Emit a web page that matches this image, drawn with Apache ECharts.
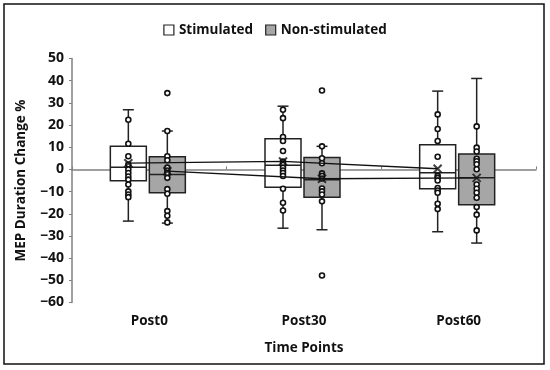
<!DOCTYPE html>
<html>
<head>
<meta charset="utf-8">
<script src="https://cdn.jsdelivr.net/npm/echarts@6/dist/echarts.min.js"></script>
<style>html,body{margin:0;padding:0;background:#fff}#c{width:550px;height:370px}</style>
</head>
<body>
<div id="c"></div>
<script>
const categories = ['Post0', 'Post30', 'Post60'];
const seriesNames = ['Stimulated', 'Non-stimulated'];
// [min, Q1, median, Q3, max]
const stimBox = [
  [-23.3, -5.1, 1.0, 10.4, 26.9],
  [-26.5, -8.0, 1.9, 13.8, 28.5],
  [-28.1, -8.7, -1.5, 11.1, 35.3]
];
const nonBox = [
  [-24.2, -10.5, -2.3, 5.7, 17.3],
  [-27.2, -12.5, -4.7, 5.4, 10.4],
  [-33.2, -15.9, -3.8, 6.9, 41.0]
];
const stimMean = [2.8, 3.6, 0.3];
const nonMean = [-0.8, -4.2, -3.8];
const stimPoints = [
  [22.4, 11.6, 5.9, 2.2, 0, -1.6, -3.2, -4.6, -6.8, -9.9, -11.3, -12.5],
  [26.9, 23.1, 14.6, 12.8, 8.3, 3.5, 2.3, 0.8, -0.5, -1.6, -3.0, -8.7, -15.0, -18.5],
  [24.8, 18.2, 12.8, 5.7, -2.9, -3.8, -5.0, -8.4, -9.5, -10.5, -15.5, -17.9]
];
const nonPoints = [
  [34.4, 17.3, 5.9, 4.1, 0.8, -0.5, -1.6, -3.8, -8.9, -11.0, -18.8, -20.9, -23.9],
  [35.6, 10.4, 5.0, 2.8, -1.8, -2.9, -4.1, -8.6, -9.9, -11.3, -14.4, -47.8],
  [19.4, 9.8, 8.1, 4.8, 3.7, 2.3, 0.1, -6.8, -8.7, -10.5, -12.8, -17.0, -20.4, -27.5]
];
const yMin = -60, yMax = 50, yStep = 10;

const FONT = 'Open Sans';
const offsets = [-21, 18];
const fills = ['#ffffff', '#a6a6a6'];
const BOXW = 36, CAPW = 11;

function boxRender(offset, fill) {
  return function (params, api) {
    const cat = api.value(0);
    const mn = api.coord([cat, api.value(1)]);
    const q1 = api.coord([cat, api.value(2)]);
    const md = api.coord([cat, api.value(3)]);
    const q3 = api.coord([cat, api.value(4)]);
    const mx = api.coord([cat, api.value(5)]);
    const x = mn[0] + offset;
    const ls = { stroke: '#222', lineWidth: 1.5, fill: null };
    return {
      type: 'group',
      children: [
        { type: 'line', shape: { x1: x, y1: mx[1], x2: x, y2: q3[1] }, style: ls },
        { type: 'line', shape: { x1: x, y1: q1[1], x2: x, y2: mn[1] }, style: ls },
        { type: 'line', shape: { x1: x - CAPW / 2, y1: mx[1], x2: x + CAPW / 2, y2: mx[1] }, style: ls },
        { type: 'line', shape: { x1: x - CAPW / 2, y1: mn[1], x2: x + CAPW / 2, y2: mn[1] }, style: ls },
        { type: 'rect', shape: { x: x - BOXW / 2, y: q3[1], width: BOXW, height: q1[1] - q3[1] },
          style: { fill: fill, stroke: '#222', lineWidth: 1.5 } },
        { type: 'line', shape: { x1: x - BOXW / 2, y1: md[1], x2: x + BOXW / 2, y2: md[1] }, style: ls }
      ]
    };
  };
}

function meanLineRender(offset, means) {
  return function (params, api) {
    if (params.dataIndex !== 0) return null;
    const pts = means.map((m, i) => {
      const p = api.coord([i, m]);
      return [p[0] + offset, p[1]];
    });
    return { type: 'polyline', shape: { points: pts }, style: { stroke: '#111', lineWidth: 1.3, fill: null } };
  };
}

const boxes = [stimBox, nonBox];
const pts = [stimPoints, nonPoints];
const means = [stimMean, nonMean];
const series = [];
for (let s = 0; s < 2; s++) {
  series.push({
    name: seriesNames[s], type: 'custom', z: 2,
    renderItem: boxRender(offsets[s], fills[s]),
    encode: { x: 0, y: [1, 2, 3, 4, 5] },
    itemStyle: { color: fills[s], borderColor: '#222' },
    data: boxes[s].map((b, i) => [i].concat(b))
  });
}
for (let s = 0; s < 2; s++) {
  const d = [];
  pts[s].forEach((arr, i) => arr.forEach(v => d.push([i, v])));
  series.push({
    type: 'scatter', z: 3, symbol: 'circle', symbolSize: 5, symbolOffset: [offsets[s], 0],
    itemStyle: { color: '#fff', borderColor: '#111', borderWidth: 1.6, opacity: 1 },
    data: d, silent: true
  });
}
for (let s = 0; s < 2; s++) {
  series.push({
    type: 'custom', z: 4,
    renderItem: meanLineRender(offsets[s], means[s]),
    encode: { x: 0, y: 1 },
    data: means[s].map((m, i) => [i, m]), silent: true
  });
  series.push({
    type: 'scatter', z: 5, symbol: 'path://M0,0L10,10M10,0L0,10', symbolSize: 8,
    symbolOffset: [offsets[s], 0],
    itemStyle: { color: 'rgba(0,0,0,0)', borderColor: '#111', borderWidth: 2 },
    data: means[s].map((m, i) => [i, m]), silent: true
  });
}

const chart = echarts.init(document.getElementById('c'));
chart.setOption({
  animation: false,
  backgroundColor: '#fff',
  textStyle: { fontFamily: FONT },
  graphic: [{
    type: 'rect', shape: { x: 4, y: 4, width: 540, height: 360 },
    style: { fill: null, stroke: '#111', lineWidth: 1.5 }, silent: true
  }],
  legend: {
    top: 18, left: 'center', itemWidth: 10, itemHeight: 10, itemGap: 12,
    icon: 'rect',
    textStyle: { fontFamily: FONT, fontWeight: 'bold', fontSize: 13.5, color: '#111' },
    data: [
      { name: seriesNames[0], itemStyle: { color: fills[0], borderColor: '#222', borderWidth: 1.2 } },
      { name: seriesNames[1], itemStyle: { color: fills[1], borderColor: '#222', borderWidth: 1.2 } }
    ]
  },
  grid: { left: 72, right: 14, top: 58.5, bottom: 67.5 },
  xAxis: {
    type: 'category', data: categories, boundaryGap: true,
    name: 'Time Points', nameLocation: 'middle', nameGap: 39,
    nameTextStyle: { fontFamily: FONT, fontWeight: 'bold', fontSize: 13.5, color: '#111' },
    axisLine: { lineStyle: { color: '#808080', width: 1.5 } },
    axisTick: { show: true, inside: true, length: 3, lineStyle: { color: '#808080' } },
    axisLabel: { fontFamily: FONT, fontWeight: 'bold', fontSize: 13.5, color: '#111', margin: 12 },
    splitLine: { show: false }
  },
  yAxis: {
    type: 'value', min: yMin, max: yMax, interval: yStep,
    name: 'MEP Duration Change %', nameLocation: 'middle', nameGap: 44, nameRotate: 90,
    nameTextStyle: { fontFamily: FONT, fontWeight: 'bold', fontSize: 13.5, color: '#111' },
    axisLine: { show: true, lineStyle: { color: '#808080', width: 1.5 } },
    axisTick: { show: true, inside: false, length: 3, lineStyle: { color: '#808080' } },
    axisLabel: { fontFamily: FONT, fontWeight: 'bold', fontSize: 14, color: '#111', margin: 8,
      formatter: v => String(v).replace('-', '\u2212') },
    splitLine: { show: false }
  },
  series: series
});
</script>
</body>
</html>
